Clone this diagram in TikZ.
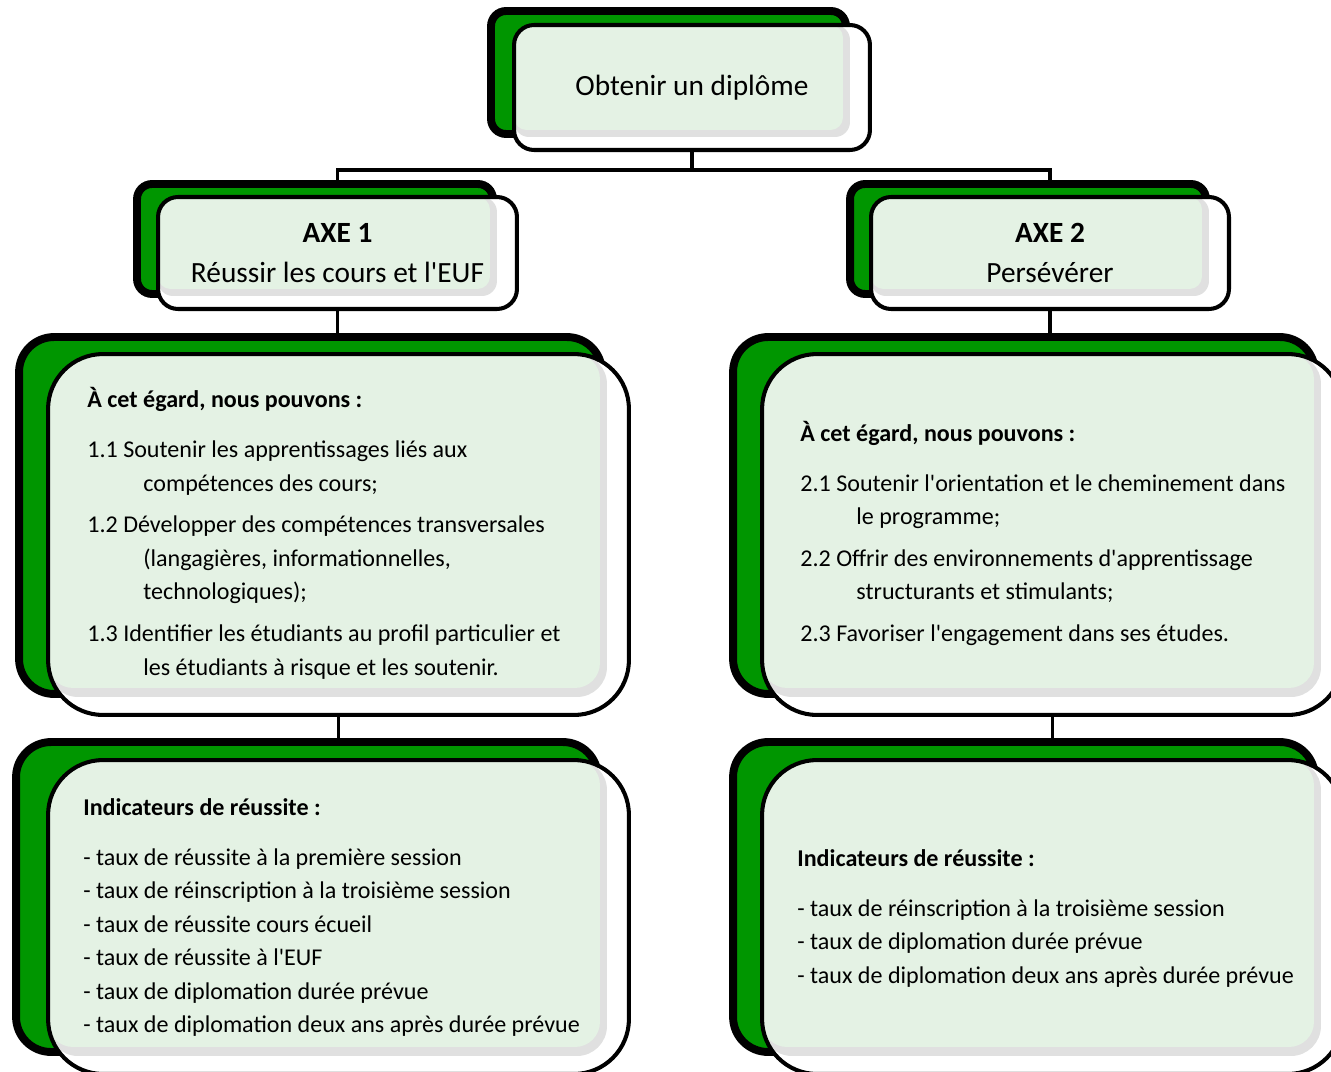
\documentclass[tikz,border=0pt]{standalone}
\usepackage{fontspec}
\setmainfont{Carlito}
\definecolor{deepgreen}{RGB}{0,150,0}
\definecolor{palegreen}{RGB}{228,242,228}
\definecolor{shadegray}{RGB}{224,224,224}
\newcommand{\retrait}{\hspace*{31.9pt}} % отступ второй строки
\begin{document}
\begin{tikzpicture}[x=0.02cm, y=-0.02cm] % 1 unit = 1 px
\tikzstyle{bkbox} = [draw, line width=4.5pt, fill=deepgreen, inner sep=0pt] % зелёная рамка сзади
\tikzstyle{facebox} = [draw, line width=2.3pt, fill=white, inner sep=0pt, align=center] % рамка спереди
\tikzstyle{smallface} = [facebox, rounded corners=0.4cm, font=\fontsize{16.7}{22.8}\selectfont, path picture={
    \fill[shadegray, rounded corners=0.3cm] (path picture bounding box.north west) rectangle ([xshift=-0.4cm, yshift=0.26cm]path picture bounding box.south east);
    \fill[palegreen, rounded corners=0.25cm] (path picture bounding box.north west) rectangle ([xshift=-0.54cm, yshift=0.4cm]path picture bounding box.south east);}]
\tikzstyle{bigface} = [facebox, rounded corners=1.1cm, path picture={
    \fill[shadegray, rounded corners=0.6cm] (path picture bounding box.north west) rectangle ([xshift=-0.44cm, yshift=0.36cm]path picture bounding box.south east);
    \fill[palegreen, rounded corners=0.5cm] (path picture bounding box.north west) rectangle ([xshift=-0.58cm, yshift=0.54cm]path picture bounding box.south east);}]
\tikzstyle{txt} = [align=left, inner sep=0pt, anchor=north west, font=\fontsize{13.7}{19.06}\selectfont] % текст в больших блоках
\tikzstyle{joint} = [line width=2.1pt] % соединительные линии

\useasboundingbox (0,0) rectangle (1331,1071);

% цель
\node[bkbox, rounded corners=0.3cm, minimum width=7.1cm, minimum height=2.46cm] (goalbk) at (668.5,72.5) {};
\node[smallface, minimum width=7.12cm, minimum height=2.5cm] (goal) at (692,87.5) {Obtenir un diplôme};

% оси
\node[bkbox, rounded corners=0.3cm, minimum width=7.12cm, minimum height=2.2cm] (axeAbk) at (315,239) {};
\node[smallface, minimum width=7.18cm, minimum height=2.24cm] (axeA) at (337.5,253) {\textbf{AXE 1}\\Réussir les cours et l\textquotesingle EUF};
\node[bkbox, rounded corners=0.3cm, minimum width=7.12cm, minimum height=2.2cm] (axeBbk) at (1028,239) {};
\node[smallface, minimum width=7.16cm, minimum height=2.24cm] (axeB) at (1050,253) {\textbf{AXE 2}\\Persévérer};

% moyens
\node[bkbox, rounded corners=0.7cm, minimum width=11.66cm, minimum height=7.14cm] (moyAbk) at (310.5,515.5) {};
\node[bigface, minimum width=11.62cm, minimum height=7.22cm] (moyA) at (338.5,534.5) {};
\node[bkbox, rounded corners=0.7cm, minimum width=11.64cm, minimum height=7.14cm] (moyBbk) at (1024,515.5) {};
\node[bigface, minimum width=11.62cm, minimum height=7.22cm] (moyB) at (1052.5,534.5) {};

% indicateurs
\node[bkbox, rounded corners=0.7cm, minimum width=11.64cm, minimum height=6.2cm] (indAbk) at (307,897) {};
\node[bigface, minimum width=11.62cm, minimum height=6.28cm] (indA) at (338.5,917) {};
\node[bkbox, rounded corners=0.7cm, minimum width=11.64cm, minimum height=6.2cm] (indBbk) at (1024,897) {};
\node[bigface, minimum width=11.62cm, minimum height=6.28cm] (indB) at (1052.5,917) {};

% тексты
\node[txt] (moyAtxt) at (87,387) {\textbf{À cet égard, nous pouvons :}\\[9.4pt]
1.1 Soutenir les apprentissages liés aux\\
\retrait compétences des cours;\\[4.8pt]
1.2 Développer des compétences transversales\\
\retrait (langagières, informationnelles,\\
\retrait technologiques);\\[4.8pt]
1.3 Identifier les étudiants au profil particulier et\\
\retrait les étudiants à risque et les soutenir.};
\node[txt] (moyBtxt) at (800,420.5) {\textbf{À cet égard, nous pouvons :}\\[9.4pt]
2.1 Soutenir l\textquotesingle orientation et le cheminement dans\\
\retrait le programme;\\[4.8pt]
2.2 Offrir des environnements d\textquotesingle apprentissage\\
\retrait structurants et stimulants;\\[4.8pt]
2.3 Favoriser l\textquotesingle engagement dans ses études.};
\node[txt] (indAtxt) at (83,798) {\textbf{Indicateurs de réussite :}\\[9.4pt]
- taux de réussite à la première session\\
- taux de réinscription à la troisième session\\
- taux de réussite cours écueil\\
- taux de réussite à l\textquotesingle EUF\\
- taux de diplomation durée prévue\\
- taux de diplomation deux ans après durée prévue};
\node[txt] (indBtxt) at (797,849) {\textbf{Indicateurs de réussite :}\\[9.4pt]
- taux de réinscription à la troisième session\\
- taux de diplomation durée prévue\\
- taux de diplomation deux ans après durée prévue};

% линии
\coordinate (fork) at (692,170);
\draw[joint] (goal.south) -- (fork);
\draw[joint] (axeA.north |- axeAbk.north) |- (fork) -| (axeB.north |- axeBbk.north);
\draw[joint] (axeA.south) -- (axeA.south |- moyAbk.north);
\draw[joint] (axeB.south) -- (axeB.south |- moyBbk.north);
\draw[joint] (moyA.south) -- (moyA.south |- indAbk.north);
\draw[joint] (moyB.south) -- (moyB.south |- indBbk.north);
\end{tikzpicture}
\end{document}
